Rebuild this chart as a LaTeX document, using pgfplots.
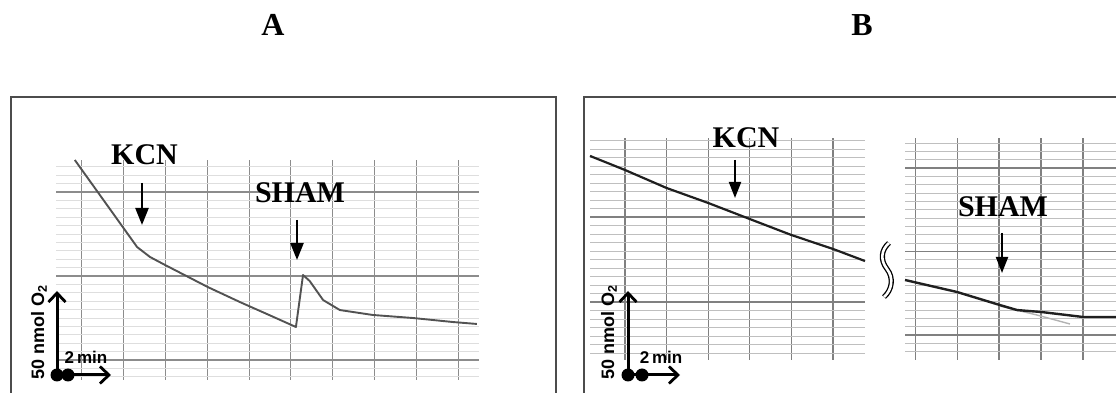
\documentclass[border=0pt]{standalone}
\usepackage{fontspec}
\setmainfont{Liberation Serif}
\newfontfamily\sansb{Liberation Sans}
\usepackage{pgfplots}
\pgfplotsset{compat=1.18}
\usetikzlibrary{arrows.meta}

\pgfplotsset{
  chart/.style={
    scale only axis, clip=false,
    axis line style={draw=none}, tick style={draw=none},
    xticklabels={}, yticklabels={},
    grid=both,
    anchor=south west,
  },
}

\begin{document}
\begin{tikzpicture}[x=1pt,y=1pt]
\useasboundingbox (0pt,0pt) rectangle (1116pt,393pt);

% ---------------- Panel A ----------------
\begin{axis}[chart, at={(56pt,13pt)}, width=423pt, height=220pt,
  xmin=-0.62, xmax=9.50, ymin=-2.38, ymax=23.81,
  xtick={0,...,9}, ytick={0,10,20}, minor ytick={-2,...,23},
  major grid style={draw=black!45, line width=1.1pt},
  minor grid style={draw=black!13, line width=0.8pt}]
\addplot[no marks, color=black!68, line width=1.9pt, line join=round] coordinates {
  (-0.17,23.81) (1.32,13.45) (1.63,12.26) (1.99,11.31) (3.01,8.69)
  (3.78,6.90) (4.50,5.31) (5.12,3.93) (5.29,10.12) (5.45,9.40)
  (5.77,7.14) (6.17,5.95) (6.96,5.36) (7.92,5.00) (8.88,4.52) (9.45,4.29)
};
\end{axis}

% ---------------- Panel B, left part ----------------
\begin{axis}[chart, at={(590pt,33pt)}, width=275pt, height=222pt,
  xmin=-0.84, xmax=5.77, ymin=-6.82, ymax=19.29,
  xtick={0,...,5}, ytick={0,10}, minor ytick={-6,...,19},
  major grid style={draw=black!50, line width=1.1pt},
  minor grid style={draw=black!25, line width=0.8pt}]
\addplot[no marks, color=black!88, line width=2.2pt, line join=round] coordinates {
  (-0.84,17.18) (0,15.53) (1,13.41) (2,11.65) (3,9.76) (4,7.88) (5,6.24) (5.77,4.82)
};
\end{axis}

% ---------------- Panel B, right part ----------------
\begin{axis}[chart, at={(905pt,33pt)}, width=225pt, height=222pt,
  xmin=-0.24, xmax=5.12, ymin=-2.99, ymax=23.59,
  xtick={0,...,5}, ytick={0,10,20}, minor ytick={-2,...,23},
  major grid style={draw=black!50, line width=1.1pt},
  minor grid style={draw=black!25, line width=0.8pt}]
\addplot[no marks, color=black!30, line width=1.4pt] coordinates {
  (2.02,3.47) (2.9,2.4) (3.69,1.32)
};
\addplot[no marks, color=black!88, line width=2.4pt, line join=round] coordinates {
  (-0.24,6.59) (1.0,5.15) (2.02,3.59) (2.43,2.99) (3.02,2.75) (4.0,2.16) (4.79,2.16) (5.12,2.16)
};
\end{axis}

% ---------------- frames and titles ----------------
\draw[line width=2pt, black!70] (11,-20) rectangle (556,296);
\draw[line width=2pt, black!70] (584,-20) rectangle (1150,296);
\node[font=\bfseries\fontsize{32}{32}\selectfont] at (273,368) {A};
\node[font=\bfseries\fontsize{32}{32}\selectfont] at (862,368) {B};

% ---------------- annotations ----------------
\node[font=\bfseries\fontsize{30}{30}\selectfont] at (144.5,238) {KCN};
\node[font=\bfseries\fontsize{30}{30}\selectfont] at (300,200) {SHAM};
\node[font=\bfseries\fontsize{30}{30}\selectfont] at (746,255.5) {KCN};
\node[font=\bfseries\fontsize{30}{30}\selectfont] at (1003,186) {SHAM};

\draw[line width=2.4pt, -{Triangle[width=13pt,length=17pt]}] (142,210) -- (142,168);
\draw[line width=2.4pt, -{Triangle[width=13pt,length=17pt]}] (297,173) -- (297,133);
\draw[line width=2pt, -{Triangle[width=12pt,length=16pt]}] (735,233) -- (735,195);
\draw[line width=2pt, -{Triangle[width=12pt,length=16pt]}] (1002,160) -- (1002,120);

% break symbol
\draw[line width=1.3pt, double=white, double distance=2.6pt]
  (889,150) .. controls (881,143) and (880,133) .. (887,124)
            .. controls (894,115) and (892,103) .. (884,96);

% ---------------- scale bars ----------------
\foreach \xo/\xd/\xe/\xt/\xr in {57/68/111/86/39, 628/642/680/661/609}{
  \draw[line width=3pt, -{Straight Barb[length=9pt,width=17pt,line width=2.8pt]}] (\xo,18) -- (\xo,102);
  \draw[line width=3pt, -{Straight Barb[length=9pt,width=17pt,line width=2.8pt]}] (\xo,18) -- (\xe,18);
  \fill (\xo,18) circle (6.5);
  \fill (\xd,18) circle (6.5);
  \node[rotate=90, font=\sansb\bfseries\fontsize{18}{18}\selectfont] at (\xr,61) {50 nmol O\textsubscript{2}};
  \node[font=\sansb\bfseries\fontsize{17}{17}\selectfont] at (\xt,36) {2\,min};
}
\end{tikzpicture}
\end{document}
